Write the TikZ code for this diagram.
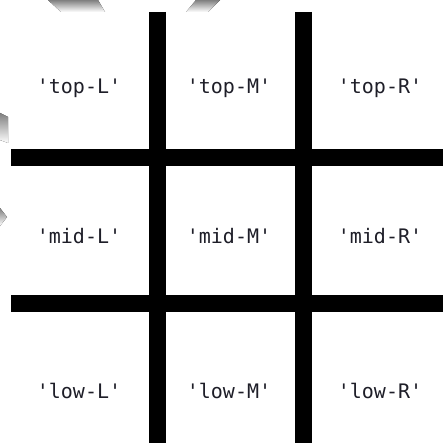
\documentclass[tikz,border=0pt]{standalone}
\usepackage{fontspec}
\setmonofont{DejaVu Sans Mono}
\usepackage{xcolor}
\usepackage{tikz}
\usetikzlibrary{positioning}

\definecolor{shade}{HTML}{DCDCDC}
\definecolor{ink}{HTML}{1E1E28}

\begin{document}
\begin{tikzpicture}[
                x=0.5pt, y=-0.5pt,
                font=\ttfamily\fontsize{10}{12}\selectfont,
                cell/.style={text=ink, anchor=base, inner sep=0pt},
                bar/.style={line width=8.5pt, black}
            ]
            \fill[white] (0,0) rectangle (443,443);
            \useasboundingbox (0,0) rectangle (443,443);
            % faint marks behind the board
            \fill[shade] (48,0) -- (98,0) -- (105,12) -- (61,12) -- cycle;
            \fill[shade] (196,0) -- (220,0) -- (208,12) -- (186,12) -- cycle;
            \fill[shade] (0,113) -- (8,117) -- (8,143) -- (0,140) -- cycle;
            \fill[shade] (0,208) -- (7,217) -- (0,226) -- cycle;
            % the four bars
            \draw[bar] (157.5,12) -- (157.5,443);
            \draw[bar] (303.5,12) -- (303.5,443);
            \draw[bar] (11,158) -- (443,158);
            \draw[bar] (11,303) -- (443,303);
            % cell labels
            \node[cell] (topL) at (79,94) {'top-L'};
            \node[cell] (topM) at (229,94) {'top-M'};
            \node[cell] (topR) at (380,94) {'top-R'};
            \node[cell] (midL) at (79,243) {'mid-L'};
            \node[cell] (midM) at (229,243) {'mid-M'};
            \node[cell] (midR) at (380,243) {'mid-R'};
            \node[cell] (lowL) at (79,398) {'low-L'};
            \node[cell] (lowM) at (229,398) {'low-M'};
            \node[cell] (lowR) at (380,398) {'low-R'};
        \end{tikzpicture}
\end{document}
